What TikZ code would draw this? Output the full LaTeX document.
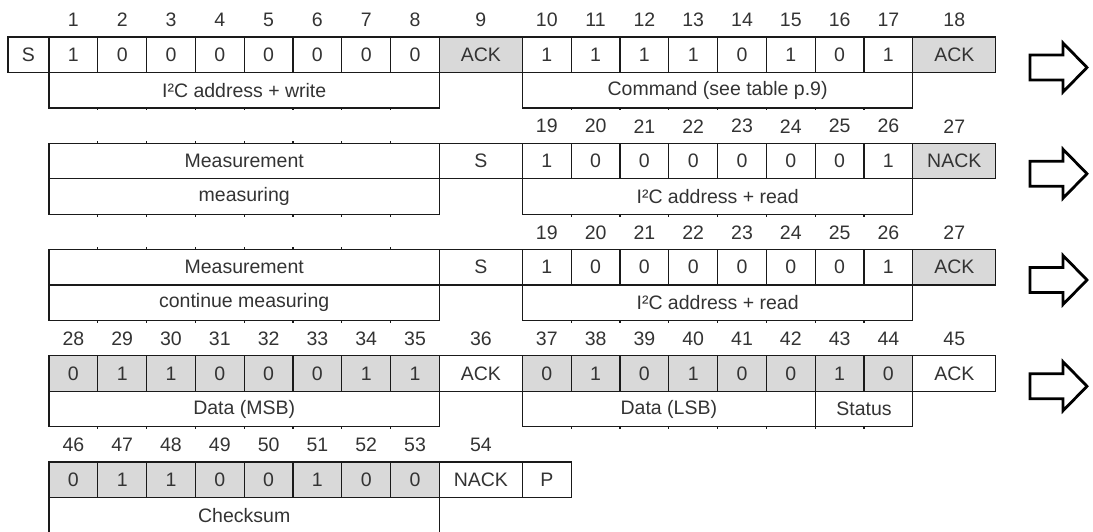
\documentclass[tikz,border=0pt]{standalone}
\usepackage{fontspec}
\setmainfont{Liberation Sans}
\definecolor{txt}{HTML}{333333}
\definecolor{cellgray}{HTML}{D9D9D9}
\definecolor{ln}{HTML}{1A1A1A}
\begin{document}
\begin{tikzpicture}[x=1pt,y=-1pt,
  cell/.style={draw=ln, line width=1.1pt, minimum height=35.5pt, inner sep=0pt, outer sep=0pt,
    text=txt, font=\fontsize{19.5}{21}\selectfont, anchor=north west},
  bit/.style={cell, minimum width=48.8pt},
  wide/.style={cell, minimum width=83pt},
  span/.style={cell, minimum width=390.4pt},
  shade/.style={fill=cellgray},
  num/.style={text=txt, font=\fontsize{19.5}{21}\selectfont, inner sep=0pt},
  tick/.style={draw=ln, line width=1.1pt},
  bigarrow/.style={draw=black, line width=2.8pt, line join=miter, fill=white}]
\useasboundingbox (0,0) rectangle (1093,532);
\clip (0,0) rectangle (1093,532);

% ---------------- Row 1 (top 37) ----------------
\node[cell, minimum width=41pt] (s1) at (8,37) {S};
\foreach \v [count=\i] in {1,0,0,0,0,0,0,0}
  \node[bit] (a\i) at ({49+48.8*(\i-1)},37) {\v};
\node[wide, shade] (a9) at (439.4,37) {ACK};
\foreach \v [count=\i from 10] in {1,1,1,1,0,1,0,1}
  \node[bit] (a\i) at ({522.4+48.8*(\i-10)},37) {\v};
\node[wide, shade] (a18) at (912.8,37) {ACK};
\foreach \i in {1,...,8}
  \node[num] (na\i) at ({49+48.8*(\i-0.5)},20) {\i};
\node[num] (na9) at (480.9,20) {9};
\foreach \i in {10,...,17}
  \node[num] (na\i) at ({522.4+48.8*(\i-9.5)},20) {\i};
\node[num] (na18) at (954.3,20) {18};
\node[span] (addrw) at (49,72.5) {I²C address + write};
\node[span] (cmd) at (522.4,72.5) {Command (see table p.9)};
\foreach \k in {1,...,7} {
  \draw[tick] ({49+48.8*\k},108) -- ++(0,2.5);
  \draw[tick] ({522.4+48.8*\k},108) -- ++(0,2.5);
}

% ---------------- Row 2 (top 143.25) ----------------
\node[span] (meas2) at (49,143.25) {Measurement};
\node[wide] (s2) at (439.4,143.25) {S};
\foreach \v [count=\i from 10] in {1,0,0,0,0,0,0,1}
  \node[bit] (b\i) at ({522.4+48.8*(\i-10)},143.25) {\v};
\node[wide, shade] (b18) at (912.8,143.25) {NACK};
\foreach \i in {10,...,17} {
  \pgfmathtruncatemacro\n{\i+9}
  \node[num] (nb\i) at ({522.4+48.8*(\i-9.5)},126.25) {\n};
}
\node[num] (nb18) at (954.3,126.25) {27};
\node[span] (measuring) at (49,178.75) {measuring};
\node[span] (addrr2) at (522.4,178.75) {I²C address + read};
\foreach \k in {1,...,7} {
  \draw[tick] ({49+48.8*\k},143.25) -- ++(0,-2.5);
  \draw[tick] ({49+48.8*\k},214.25) -- ++(0,2.5);
  \draw[tick] ({522.4+48.8*\k},214.25) -- ++(0,2.5);
}

% ---------------- Row 3 (top 249.5) ----------------
\node[span] (meas3) at (49,249.5) {Measurement};
\node[wide] (s3) at (439.4,249.5) {S};
\foreach \v [count=\i from 10] in {1,0,0,0,0,0,0,1}
  \node[bit] (c\i) at ({522.4+48.8*(\i-10)},249.5) {\v};
\node[wide, shade] (c18) at (912.8,249.5) {ACK};
\foreach \i in {10,...,17} {
  \pgfmathtruncatemacro\n{\i+9}
  \node[num] (nc\i) at ({522.4+48.8*(\i-9.5)},232.5) {\n};
}
\node[num] (nc18) at (954.3,232.5) {27};
\node[span] (contmeas) at (49,285) {continue measuring};
\node[span] (addrr3) at (522.4,285) {I²C address + read};
\foreach \k in {1,...,7} {
  \draw[tick] ({49+48.8*\k},249.5) -- ++(0,-2.5);
  \draw[tick] ({49+48.8*\k},320.5) -- ++(0,2.5);
  \draw[tick] ({522.4+48.8*\k},320.5) -- ++(0,2.5);
}

% ---------------- Row 4 (top 355.75) ----------------
\foreach \v [count=\i] in {0,1,1,0,0,0,1,1}
  \node[bit, shade] (d\i) at ({49+48.8*(\i-1)},355.75) {\v};
\node[wide] (d9) at (439.4,355.75) {ACK};
\foreach \v [count=\i from 10] in {0,1,0,1,0,0,1,0}
  \node[bit, shade] (d\i) at ({522.4+48.8*(\i-10)},355.75) {\v};
\node[wide] (d18) at (912.8,355.75) {ACK};
\foreach \i in {1,...,8} {
  \pgfmathtruncatemacro\n{\i+27}
  \node[num] (nd\i) at ({49+48.8*(\i-0.5)},338.75) {\n};
}
\node[num] (nd9) at (480.9,338.75) {36};
\foreach \i in {10,...,17} {
  \pgfmathtruncatemacro\n{\i+27}
  \node[num] (nd\i) at ({522.4+48.8*(\i-9.5)},338.75) {\n};
}
\node[num] (nd18) at (954.3,338.75) {45};
\node[span] (msb) at (49,391.25) {Data (MSB)};
\node[cell, minimum width=292.8pt] (lsb) at (522.4,391.25) {Data (LSB)};
\node[cell, minimum width=97.6pt] (status) at (815.2,391.25) {Status};
\foreach \k in {1,...,7} {
  \draw[tick] ({49+48.8*\k},426.75) -- ++(0,2.5);
  \draw[tick] ({522.4+48.8*\k},426.75) -- ++(0,2.5);
}

% ---------------- Row 5 (top 462) ----------------
\foreach \v [count=\i] in {0,1,1,0,0,1,0,0}
  \node[bit, shade] (e\i) at ({49+48.8*(\i-1)},462) {\v};
\node[wide] (e9) at (439.4,462) {NACK};
\node[bit] (p) at (522.4,462) {P};
\foreach \i in {1,...,8} {
  \pgfmathtruncatemacro\n{\i+45}
  \node[num] (ne\i) at ({49+48.8*(\i-0.5)},445) {\n};
}
\node[num] (ne9) at (480.9,445) {54};
\node[span] (chk) at (49,497.5) {Checksum};

% ---------------- Arrows ----------------
\foreach \yc in {67.5,173.75,280,386.25}
  \draw[bigarrow] (1030,\yc-12.5) -- (1063,\yc-12.5) -- (1063,\yc-24.5) -- (1087,\yc)
    -- (1063,\yc+24.5) -- (1063,\yc+12.5) -- (1030,\yc+12.5) -- cycle;
\end{tikzpicture}
\end{document}
